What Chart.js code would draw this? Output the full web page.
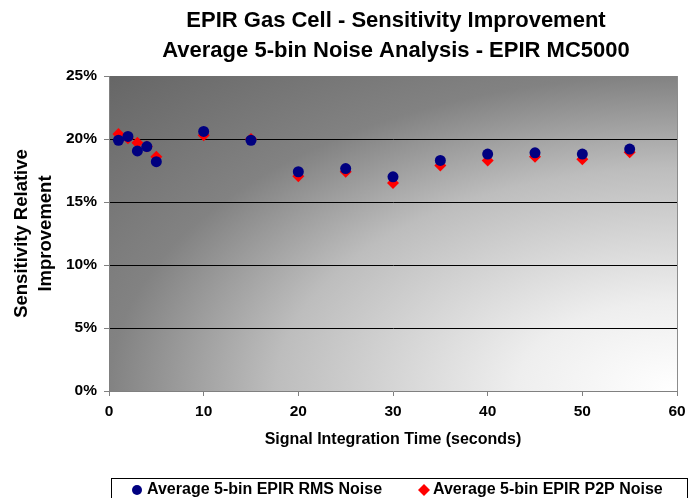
<!DOCTYPE html>
<html>
<head>
<meta charset="utf-8">
<script src="https://cdn.jsdelivr.net/npm/chart.js@4"></script>
<style>
html,body{margin:0;padding:0;background:#fff;}
#wrap{width:699px;height:498px;position:relative;}
</style>
</head>
<body>
<div id="wrap"><canvas id="c"></canvas></div>
<script>
const titleLines = ["EPIR Gas Cell - Sensitivity Improvement", "Average 5-bin Noise Analysis - EPIR MC5000"];
const yTitleLines = ["Sensitivity Relative", "Improvement"];
const xTitle = "Signal Integration Time (seconds)";
const seriesNames = ["Average 5-bin EPIR RMS Noise", "Average 5-bin EPIR P2P Noise"];
const times = [1, 2, 3, 4, 5, 10, 15, 20, 25, 30, 35, 40, 45, 50, 55];
const rmsNoise = [19.9, 20.2, 19.05, 19.4, 18.2, 20.6, 19.9, 17.4, 17.65, 17.0, 18.3, 18.8, 18.9, 18.8, 19.2];
const p2pNoise = [20.4, 20.05, 19.7, 19.4, 18.6, 20.3, 20.0, 17.05, 17.4, 16.5, 17.9, 18.3, 18.6, 18.4, 18.95];

const FONT = '"Liberation Sans", Arial, sans-serif';

const bgPlugin = {
  id: 'bg',
  beforeDraw(chart) {
    const a = chart.chartArea, ctx = chart.ctx;
    const W = a.right - a.left, H = a.bottom - a.top;
    ctx.save();
    ctx.beginPath();
    ctx.rect(a.left, a.top, W, H);
    ctx.clip();
    ctx.translate(a.right, a.bottom);
    ctx.scale(W, H);
    const g = ctx.createRadialGradient(0, 0, 0, 0, 0, Math.SQRT2);
    g.addColorStop(0, '#ffffff');
    g.addColorStop(0.2, '#eeeeee');
    g.addColorStop(0.5, '#bdbdbd');
    g.addColorStop(0.707, '#828282');
    g.addColorStop(1, '#666666');
    ctx.fillStyle = g;
    ctx.fillRect(-1, -1, 1, 1);
    ctx.restore();
  },
  afterDraw(chart) {
    const a = chart.chartArea, ctx = chart.ctx;
    ctx.save();
    ctx.strokeStyle = '#8c8c8c';
    ctx.lineWidth = 1;
    ctx.beginPath();
    ctx.moveTo(a.right + 0.5, a.top);
    ctx.lineTo(a.right + 0.5, a.bottom);
    ctx.stroke();
    ctx.fillStyle = '#000';
    ctx.textAlign = 'center';
    ctx.textBaseline = 'middle';
    ctx.font = 'bold 22px ' + FONT;
    ctx.fillText(titleLines[0], 396, 21);
    ctx.fillText(titleLines[1], 396, 51);
    ctx.font = 'bold 16px ' + FONT;
    ctx.fillText(xTitle, 393, 440);
    ctx.save();
    ctx.translate(22, (a.top + a.bottom) / 2);
    ctx.rotate(-Math.PI / 2);
    ctx.font = 'bold 18.5px ' + FONT;
    ctx.fillText(yTitleLines[0], 0, 0);
    ctx.fillText(yTitleLines[1], 0, 24);
    ctx.restore();
    ctx.strokeStyle = '#000';
    ctx.strokeRect(111.5, 478.5, 576, 30);
    const ly = 490;
    const ds = chart.data.datasets;
    ctx.fillStyle = ds[0].backgroundColor;
    ctx.beginPath();
    ctx.arc(137, ly, 5, 0, Math.PI * 2);
    ctx.fill();
    ctx.fillStyle = ds[1].backgroundColor;
    ctx.beginPath();
    ctx.moveTo(424, ly - 6); ctx.lineTo(430, ly); ctx.lineTo(424, ly + 6); ctx.lineTo(418, ly);
    ctx.closePath();
    ctx.fill();
    ctx.fillStyle = '#000';
    ctx.textAlign = 'left';
    ctx.font = 'bold 16px ' + FONT;
    ctx.fillText(seriesNames[0], 147, ly);
    ctx.fillText(seriesNames[1], 433, ly);
    ctx.restore();
  }
};

new Chart(document.getElementById('c'), {
  type: 'scatter',
  data: {
    datasets: [
      {
        label: seriesNames[0],
        data: times.map((t, i) => ({x: t, y: rmsNoise[i]})),
        backgroundColor: '#000080',
        borderColor: '#000080',
        pointStyle: 'circle',
        pointRadius: 5.5,
        pointBorderWidth: 0
      },
      {
        label: seriesNames[1],
        data: times.map((t, i) => ({x: t, y: p2pNoise[i]})),
        backgroundColor: '#ff0000',
        borderColor: '#ff0000',
        pointStyle: 'rectRot',
        pointRadius: 6,
        pointBorderWidth: 0
      }
    ]
  },
  options: {
    responsive: true,
    maintainAspectRatio: false,
    animation: false,
    devicePixelRatio: 1,
    layout: { padding: { top: 76, right: 22, left: 0, bottom: 0 } },
    plugins: { legend: { display: false }, title: { display: false }, tooltip: { enabled: false } },
    scales: {
      x: {
        type: 'linear',
        min: 0, max: 60,
        afterFit(s) { s.height = 498 - 76 - 315; },
        ticks: { stepSize: 10, color: '#000', font: { family: FONT, size: 15.5, weight: 'bold' }, padding: 6, maxRotation: 0 },
        grid: { drawOnChartArea: false, drawTicks: true, tickLength: 5, color: '#808080', tickColor: '#808080' },
        border: { color: '#808080', width: 1 }
      },
      y: {
        type: 'linear',
        min: 0, max: 25,
        afterFit(s) { s.width = 109; },
        ticks: { stepSize: 5, color: '#000', font: { family: FONT, size: 15.5, weight: 'bold' }, padding: 7, callback: v => v + '%' },
        grid: {
          drawTicks: true, tickLength: 5,
          color: c => (c.tick && (c.tick.value === 0 || c.tick.value === 25)) ? 'rgba(0,0,0,0)' : '#000000',
          tickColor: '#808080',
          lineWidth: 1
        },
        border: { color: '#808080', width: 1 }
      }
    }
  },
  plugins: [bgPlugin]
});
</script>
</body>
</html>
